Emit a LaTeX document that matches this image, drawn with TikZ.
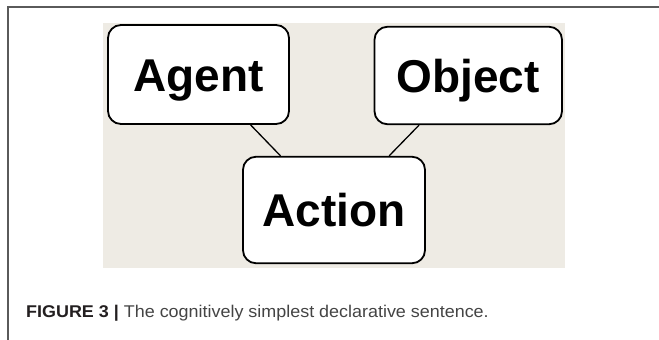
\documentclass[tikz,border=0pt]{standalone}
\usepackage{fontspec}
\setmainfont{Liberation Sans}
\usetikzlibrary{calc}
\definecolor{beige}{HTML}{EEEBE4}
\definecolor{framegray}{HTML}{5A5A5A}
\definecolor{capdark}{HTML}{231F20}
\definecolor{capgray}{HTML}{444444}
\begin{document}
\begin{tikzpicture}[x=1pt,y=-1pt,
  conceptbox/.style={draw=black, line width=1.8pt, fill=white, rounded corners=13pt,
    inner sep=0pt, text height=33pt, text depth=0pt,
    font=\fontsize{46}{46}\selectfont\bfseries},
  link/.style={draw=black, line width=1.3pt}]
\useasboundingbox (0,0) rectangle (659,340);
\fill[white] (0,0) rectangle (659,340);
% frame
\draw[framegray, line width=1.5pt] (8,340) -- (8,7) -- (659,7);
% background panel
\fill[beige] (103,23) rectangle (564.5,267.5);
% boxes
\node[conceptbox, minimum width=181pt, minimum height=99pt] (agent) at (198.5,74.5) {Agent};
\node[conceptbox, minimum width=187.5pt, minimum height=97.5pt] (object) at (468.25,75.5) {Object};
\node[conceptbox, minimum width=182pt, minimum height=106.5pt] (action) at (334,210) {Action};
% connectors
\draw[link] ($(agent.south west)!0.785!(agent.south east)$) -- ($(action.north west)!0.209!(action.north east)$);
\draw[link] ($(object.south west)!0.24!(object.south east)$) -- ($(action.north west)!0.80!(action.north east)$);
% caption
\node[anchor=base west, inner sep=0pt] (caption) at (26,317.5)
  {\scalebox{1.055}[1]{\fontsize{17}{20}\selectfont\color{capdark}\textbf{FIGURE 3 |} \color{capgray}The cognitively simplest declarative sentence.}};
\end{tikzpicture}
\end{document}
